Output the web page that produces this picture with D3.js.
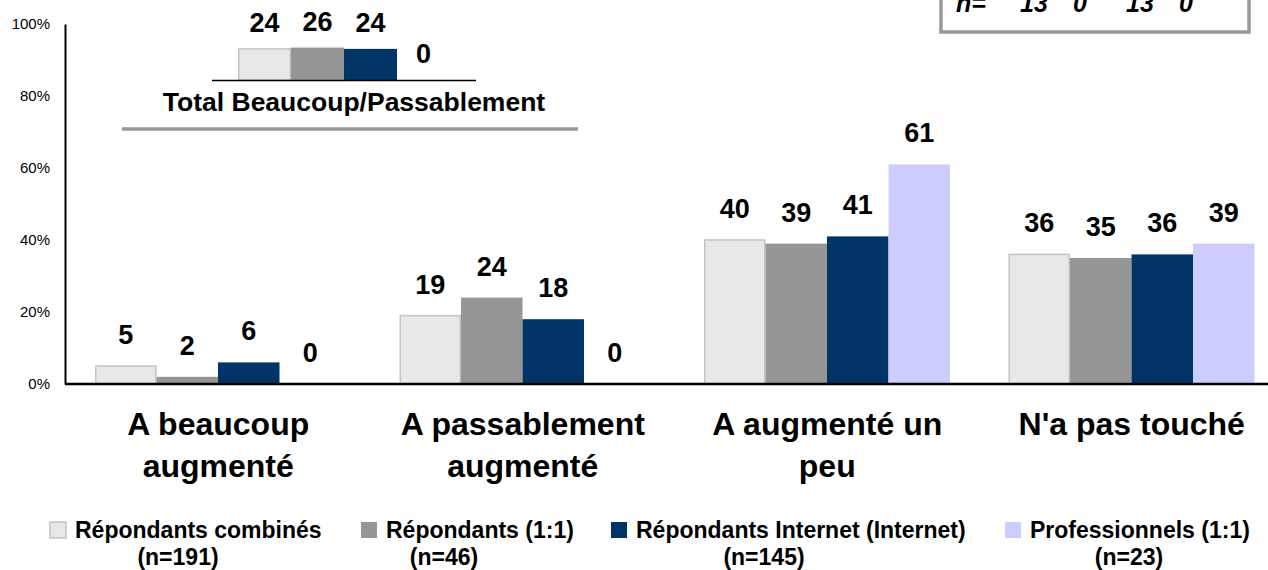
<!DOCTYPE html>
<html lang="fr">
<head>
<meta charset="UTF-8">
<title>Impact</title>
<script src="https://d3js.org/d3.v7.min.js"></script>
<style>
  body { margin: 0; background: #fff; }
  svg { display: block; font-family: "Liberation Sans", Arial, sans-serif; }
  .val { font-size: 27px; font-weight: bold; text-anchor: middle; fill: #000; }
  .ttl { font-size: 26.5px; font-weight: bold; text-anchor: middle; fill: #000; }
  .cat { font-size: 32px; font-weight: bold; text-anchor: middle; fill: #000; }
  .leg { font-size: 23px; font-weight: bold; fill: #000; }
  .tick text { font-size: 15px; fill: #000; }
</style>
</head>
<body>
<svg width="1268" height="570"></svg>
<script>
// categories and series
const categories = ["A beaucoup augmenté", "A passablement augmenté", "A augmenté un peu", "N'a pas touché"];
const categoryLines = [["A beaucoup", "augmenté"], ["A passablement", "augmenté"], ["A augmenté un", "peu"], ["N'a pas touché"]];
const seriesNames = ["Répondants combinés", "Répondants (1:1)", "Répondants Internet (Internet)", "Professionnels (1:1)"];
const seriesN = ["(n=191)", "(n=46)", "(n=145)", "(n=23)"];
const seriesColors = ["#e8e8e8", "#969696", "#003366", "#ccccff"];

// values per category, in series order
const combined = [5, 19, 40, 36];
const oneToOne = [2, 24, 39, 35];
const internet = [6, 18, 41, 36];
const pros = [0, 0, 61, 39];

// Total Beaucoup/Passablement inset
const totalBP = [24, 26, 24, 0];
const totalN = [13, 0, 13, 0];

const yTicks = [0, 20, 40, 60, 80, 100];

const values = [combined, oneToOne, internet, pros];
const svg = d3.select("svg");

// main chart scales
const x0 = d3.scaleBand().domain(categories).range([66, 1284]);
const x1 = d3.scaleBand().domain(seriesNames).range([29, 275]);
const y = d3.scaleLinear().domain([0, 100]).range([384, 24]);

// y axis
const yAxis = svg.append("g")
    .attr("transform", "translate(65,0)")
    .call(d3.axisLeft(y).tickValues(yTicks).tickFormat(d => d + "%").tickSize(0).tickPadding(15));
yAxis.select(".domain").attr("stroke", "#000").attr("stroke-width", 2);

// bars
const groups = svg.append("g").selectAll("g")
    .data(categories)
    .join("g")
    .attr("transform", d => `translate(${x0(d)},0)`);

groups.selectAll("rect")
    .data((c, ci) => seriesNames.map((s, si) => ({ s, si, v: values[si][ci] })))
    .join("rect")
    .attr("x", d => x1(d.s) + (d.si === 0 ? 0.75 : 0))
    .attr("width", d => x1.bandwidth() - (d.si === 0 ? 1.5 : 0))
    .attr("y", d => y(d.v))
    .attr("height", d => y(0) - y(d.v))
    .attr("fill", d => seriesColors[d.si])
    .attr("stroke", d => d.si === 0 && d.v > 0 ? "#c4c4c4" : "none")
    .attr("stroke-width", 1.5);

groups.selectAll("text")
    .data((c, ci) => seriesNames.map((s, si) => ({ s, si, v: values[si][ci] })))
    .join("text")
    .attr("class", "val")
    .attr("x", d => x1(d.s) + x1.bandwidth() / 2)
    .attr("y", d => y(d.v) - 22)
    .text(d => d.v);

// x axis line
svg.append("line")
    .attr("x1", 65).attr("x2", 1268)
    .attr("y1", y(0)).attr("y2", y(0))
    .attr("stroke", "#000").attr("stroke-width", 2.5);

// category labels
categories.forEach((c, i) => {
  const cx = x0(c) + x0.bandwidth() / 2;
  const t = svg.append("text").attr("class", "cat").attr("x", cx).attr("y", 435);
  categoryLines[i].forEach((line, li) => {
    t.append("tspan").attr("x", cx).attr("dy", li === 0 ? 0 : 42).text(line);
  });
});

// inset: Total Beaucoup/Passablement
const xi = d3.scaleBand().domain(seriesNames).range([238, 450]);
const yi = d3.scaleLinear().domain([-24, 30]).range([80, 45]);
const inset = svg.append("g");
inset.selectAll("rect")
    .data(totalBP.map((v, i) => ({ v, i })).filter(d => d.v > 0))
    .join("rect")
    .attr("x", d => xi(seriesNames[d.i]) + (d.i === 0 ? 0.75 : 0))
    .attr("width", d => xi.bandwidth() - (d.i === 0 ? 1.5 : 0))
    .attr("y", d => yi(d.v))
    .attr("height", d => 80 - yi(d.v))
    .attr("fill", d => seriesColors[d.i])
    .attr("stroke", d => d.i === 0 ? "#c4c4c4" : "none")
    .attr("stroke-width", 1.5);
inset.selectAll("text")
    .data(totalBP.map((v, i) => ({ v, i })))
    .join("text")
    .attr("class", "val")
    .attr("x", d => xi(seriesNames[d.i]) + xi.bandwidth() / 2)
    .attr("y", d => (d.v > 0 ? yi(d.v) : 80) - 17)
    .text(d => d.v);
inset.append("line")
    .attr("x1", 212).attr("x2", 476).attr("y1", 80.5).attr("y2", 80.5)
    .attr("stroke", "#000").attr("stroke-width", 1.5);
inset.append("text")
    .attr("class", "ttl").attr("x", 354).attr("y", 111)
    .text("Total Beaucoup/Passablement");
inset.append("line")
    .attr("x1", 122).attr("x2", 578).attr("y1", 129).attr("y2", 129)
    .attr("stroke", "#999").attr("stroke-width", 3.5);

// n= box top right
svg.append("rect")
    .attr("x", 941).attr("y", -10).attr("width", 308).attr("height", 42)
    .attr("fill", "#fff").attr("stroke", "#999").attr("stroke-width", 3.5);
const nBox = svg.append("g")
    .style("font-size", "25px").style("font-weight", "bold").style("font-style", "italic");
nBox.append("text").attr("x", 956).attr("y", 12).text("n=");
nBox.selectAll("text.nv")
    .data(totalN)
    .join("text")
    .attr("class", "nv")
    .attr("x", (d, i) => 1020 + i * 53)
    .attr("y", 12)
    .text(d => d);

// legend
const legX = [75, 386, 636, 1030];
const legNX = [178, 444, 764, 1129];
const leg = svg.append("g");
seriesNames.forEach((s, i) => {
  leg.append("rect")
      .attr("x", legX[i] - 25).attr("y", 522).attr("width", 16).attr("height", 16)
      .attr("fill", seriesColors[i])
      .attr("stroke", i === 0 ? "#c4c4c4" : "none").attr("stroke-width", 1.5);
  leg.append("text").attr("class", "leg").attr("x", legX[i]).attr("y", 538).text(s);
  leg.append("text").attr("class", "leg").attr("x", legNX[i]).attr("y", 565)
      .attr("text-anchor", "middle").text(seriesN[i]);
});
</script>
</body>
</html>
